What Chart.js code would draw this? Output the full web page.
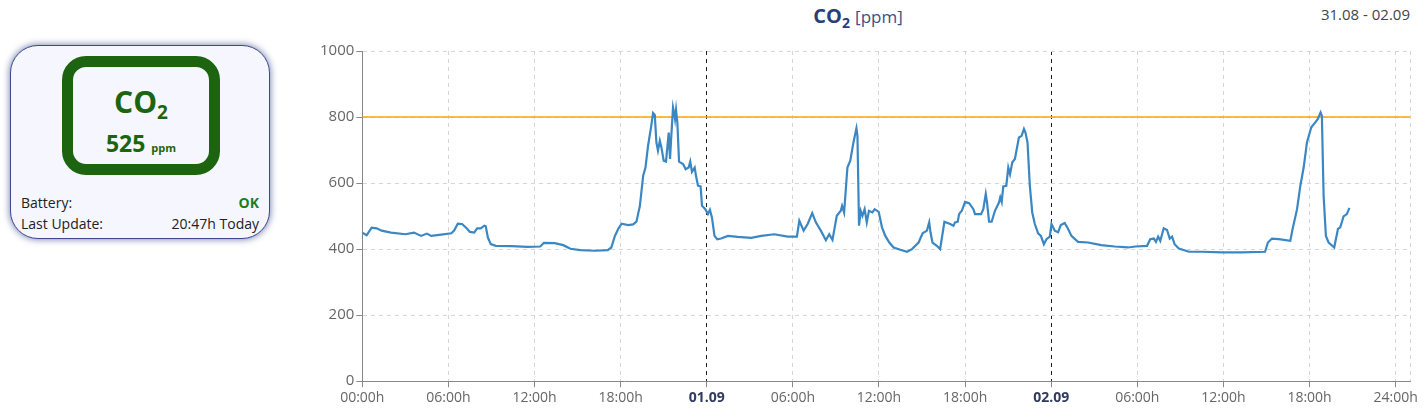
<!DOCTYPE html>
<html>
<head>
<meta charset="utf-8">
<script src="https://cdn.jsdelivr.net/npm/chart.js@4.4.1/dist/chart.umd.min.js"></script>
<style>
  body { margin: 0; width: 1428px; height: 418px; background: #fff; font-family: "Open Sans", "Noto Sans", sans-serif; position: relative; overflow: hidden; }
  .card { position: absolute; left: 10px; top: 45px; width: 260px; height: 194px; box-sizing: border-box;
    background: #f5f6fe; border: 1px solid #3a4a8c; border-radius: 28px; box-shadow: 0 0 6px 1px rgba(40,55,130,0.55); }
  .badge { position: absolute; left: 51px; top: 10px; width: 158px; height: 119px; box-sizing: border-box;
    border: 11px solid #1c640f; border-radius: 24px; text-align: center; color: #1c640f; }
  .badge .name { font-weight: bold; font-size: 30px; margin-top: 18px; line-height: 34px; }
  .badge .name sub { font-size: 19px; vertical-align: -6px; line-height: 0; }
  .badge .val { font-weight: bold; font-size: 23px; margin-top: 8px; }
  .badge .val span { font-size: 11px; margin-left: 6px; }
  .row { position: absolute; left: 10px; right: 10px; font-size: 14px; color: #222; display: flex; justify-content: space-between; }
  .ok { color: #1a7f1a; font-weight: bold; }
  .title { position: absolute; left: 0; width: 1716px; top: 2px; text-align: center; font-size: 20px; color: #2a3d78; }
  .title b sub { font-size: 14px; vertical-align: -5px; line-height: 0; }
  .title span { font-size: 17px; color: #3c4d8c; }
  .range { position: absolute; right: 18px; top: 4px; font-size: 15px; color: #444; }
  .wrap { position: absolute; left: 318px; top: 40px; width: 1100px; height: 368px; }
</style>
</head>
<body>
<div class="card">
  <div class="badge">
    <div class="name">CO<sub>2</sub></div>
    <div class="val">525<span>ppm</span></div>
  </div>
  <div class="row" style="top:147px"><span>Battery:</span><span class="ok">OK</span></div>
  <div class="row" style="top:168px"><span>Last Update:</span><span>20:47h Today</span></div>
</div>
<div class="title"><b>CO<sub>2</sub></b> <span>[ppm]</span></div>
<div class="range">31.08 - 02.09</div>
<div class="wrap"><canvas id="chartCo2"></canvas></div>
<script>
// Zeit in Stunden ab 31.08 00:00h
const hours = [0, 0.3, 0.65, 1.0, 1.35, 2.0, 3.0, 3.6, 4.1, 4.5, 4.8, 5.5, 6.2, 6.4, 6.65, 6.95, 7.25, 7.5, 7.8, 8.0,
  8.25, 8.5, 8.6, 8.75, 8.95, 9.3, 10.4, 11.5, 12.4, 12.65, 13.4, 14.0, 14.5, 15.2, 16.2, 17.1, 17.35, 17.6, 17.83, 18.06,
  18.53, 18.87, 19.1, 19.34, 19.57, 19.73, 19.91, 20.1, 20.26, 20.38, 20.49, 20.6, 20.73, 20.84, 21.0, 21.16, 21.35, 21.44, 21.53, 21.65,
  21.74, 21.79, 21.86, 21.95, 22.07, 22.35, 22.53, 22.74, 22.85, 22.97, 23.16, 23.25, 23.39, 23.57, 23.67, 23.9, 24.08, 24.22, 24.36, 24.54,
  24.73, 25.0, 25.47, 26.16, 27.1, 27.8, 28.7, 29.64, 30.28, 30.45, 30.75, 31.03, 31.35, 31.6, 31.95, 32.3, 32.53, 32.76, 33.06, 33.34,
  33.43, 33.57, 33.8, 34.0, 34.22, 34.43, 34.5, 34.61, 34.73, 34.85, 35.0, 35.15, 35.3, 35.54, 35.7, 35.98, 36.21, 36.44, 36.72, 37.02,
  37.49, 37.95, 38.3, 38.76, 39.04, 39.34, 39.5, 39.59, 39.73, 40.03, 40.26, 40.56, 40.96, 41.19, 41.3, 41.49, 41.58, 41.77, 42.0, 42.28,
  42.58, 42.69, 43.11, 43.27, 43.44, 43.53, 43.67, 43.85, 44.08, 44.36, 44.45, 44.55, 44.66, 44.87, 45.01, 45.13, 45.29, 45.47, 45.75, 45.94,
  46.1, 46.21, 46.35, 46.51, 46.68, 46.86, 47.09, 47.28, 47.49, 47.67, 47.9, 48.02, 48.25, 48.48, 48.67, 48.94, 49.18, 49.41, 49.87, 50.56,
  51.49, 52.42, 53.34, 53.87, 54.68, 54.9, 55.15, 55.3, 55.45, 55.6, 55.84, 56.07, 56.26, 56.42, 56.6, 56.89, 57.6, 58.5, 59.9, 61.3,
  62.9, 63.1, 63.38, 63.85, 64.66, 64.82, 65.13, 65.36, 65.59, 65.82, 66.12, 66.4, 66.58, 66.77, 66.86, 66.98, 67.14, 67.33, 67.72, 67.98,
  68.14, 68.37, 68.6, 68.78];
const co2 = [450, 442, 465, 463, 456, 450, 445, 450, 440, 447, 440, 444, 448, 456, 477, 476, 464, 452, 450, 463,
  463, 471, 469, 435, 415, 410, 409, 407, 408, 419, 418, 412, 401, 397, 395, 397, 405, 440, 461, 477,
  473, 475, 483, 531, 622, 647, 713, 764, 812, 806, 723, 698, 728, 708, 668, 665, 753, 673, 743, 829,
  809, 794, 822, 784, 665, 658, 642, 647, 665, 634, 647, 622, 592, 590, 531, 521, 506, 519, 496, 440,
  430, 432, 440, 437, 434, 440, 445, 438, 438, 486, 456, 476, 509, 481, 456, 427, 445, 428, 501, 516,
  531, 511, 647, 668, 723, 766, 743, 471, 516, 501, 521, 481, 516, 511, 521, 513, 466, 440, 420, 405,
  398, 392, 400, 420, 448, 456, 481, 451, 420, 410, 400, 483, 476, 471, 481, 483, 506, 516, 543, 539,
  521, 506, 506, 521, 567, 541, 483, 483, 516, 541, 557, 543, 590, 592, 647, 627, 663, 673, 738, 743,
  764, 752, 723, 592, 511, 476, 448, 440, 415, 430, 438, 476, 456, 451, 473, 479, 461, 440, 422, 420,
  412, 408, 405, 408, 410, 430, 432, 422, 438, 425, 463, 458, 432, 438, 415, 402, 392, 392, 390, 390,
  392, 420, 432, 430, 425, 461, 521, 592, 647, 723, 769, 784, 794, 814, 804, 562, 440, 420, 405, 461,
  466, 499, 506, 525];
const grenzwert = 800;
const tickHours = [0, 6, 12, 18, 24, 30, 36, 42, 48, 54, 60, 66, 72, 73];
const dayLabels = ['31.08', '01.09', '02.09'];
const yTicks = [0, 200, 400, 600, 800, 1000];

function isDay(v) { return v % 24 === 0 && v > 0 && v < 72; }

const ctx = document.getElementById('chartCo2').getContext('2d');
new Chart(ctx, {
  type: 'line',
  data: {
    datasets: [{
      label: 'CO2',
      data: hours.map((h, i) => ({ x: h, y: co2[i] })),
      borderColor: '#3a87c4',
      borderWidth: 2.2,
      pointRadius: 0,
      tension: 0
    }, {
      label: 'Grenze',
      data: [{ x: 0, y: grenzwert }, { x: 73, y: grenzwert }],
      borderColor: '#ffa500',
      borderWidth: 1.5,
      pointRadius: 0
    }]
  },
  options: {
    responsive: true,
    maintainAspectRatio: false,
    animation: false,
    layout: { padding: { top: 6, right: 8 } },
    plugins: { legend: { display: false }, tooltip: { enabled: false } },
    scales: {
      x: {
        type: 'linear',
        min: 0,
        max: 73,
        afterBuildTicks: scale => { scale.ticks = tickHours.map(v => ({ value: v })); },
        border: { color: '#888', dash: [4, 4] },
        grid: {
          color: c => (c.tick && isDay(c.tick.value)) ? '#222' : '#d6d6d6',
          tickColor: c => (c.tick && c.tick.value === 73) ? 'rgba(0,0,0,0)' : '#888',
          tickLength: 6
        },
        ticks: {
          maxRotation: 0,
          autoSkip: false,
          padding: 2,
          color: c => (c.tick && isDay(c.tick.value)) ? '#2f3b5f' : '#666',
          font: c => (c.tick && isDay(c.tick.value)) ? { family: 'Open Sans', size: 14, weight: 'bold' } : { family: 'Open Sans', size: 14 },
          callback: v => {
            if (v === 73) return '';
            if (isDay(v)) return dayLabels[v / 24];
            const hh = v === 72 ? 24 : v % 24;
            return String(hh).padStart(2, '0') + ':00h';
          }
        }
      },
      y: {
        min: 0,
        max: 1000,
        afterBuildTicks: scale => { scale.ticks = yTicks.map(v => ({ value: v })); },
        border: { color: '#888', dash: [4, 4] },
        grid: { color: '#d6d6d6', tickColor: '#888', tickLength: 6 },
        ticks: { color: '#666', padding: 2, font: { family: 'Open Sans', size: 15 }, callback: v => String(v) }
      }
    }
  }
});
</script>
</body>
</html>
